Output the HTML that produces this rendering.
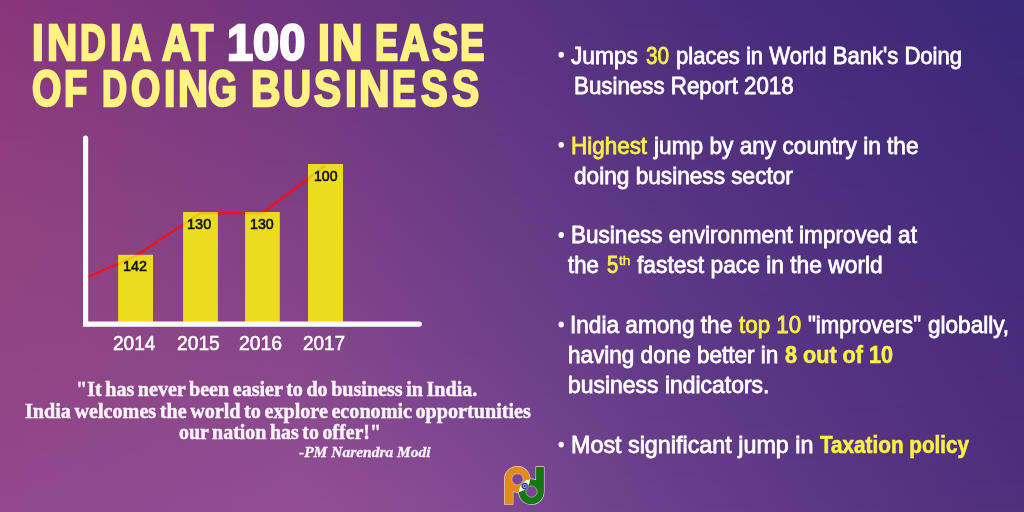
<!DOCTYPE html>
<html lang="en"><head><meta charset="utf-8"><title>India at 100 in Ease of Doing Business</title>
<style>
html,body{margin:0;padding:0;}
body{width:1024px;height:512px;overflow:hidden;position:relative;background:#5b3380;}
#bg,#bg2{position:absolute;left:0;top:0;width:1024px;height:512px;}
#bg{background:linear-gradient(to right,#87357d 0%,#5b3380 50%,#4a2d7c 70%,#3a2878 100%);}
#bg2{background:linear-gradient(to right,#90478f 0%,#914d95 29%,#6e428e 60%,#5d3785 80%,#502f7c 100%);
 -webkit-mask-image:linear-gradient(to bottom,rgba(0,0,0,0) 0%,rgba(0,0,0,1) 100%);
 mask-image:linear-gradient(to bottom,rgba(0,0,0,0) 0%,rgba(0,0,0,1) 100%);}
#bg3{position:absolute;left:0;top:0;width:1024px;height:512px;background:radial-gradient(ellipse 220px 170px at 430px 100%,rgba(250,130,170,0.05) 0%,rgba(250,130,170,0) 100%),radial-gradient(ellipse 490px 330px at 0 50%,rgba(189,107,84,0.115) 0%,rgba(189,107,84,0) 100%);}
.t{position:absolute;display:block;white-space:pre;line-height:1;transform-origin:0 0;margin:0;padding:0;}
svg{position:absolute;left:0;top:0;}
h1,ul,li,blockquote,figure{margin:0;padding:0;font:inherit;list-style:none;display:block;}
</style></head><body>
<div id="bg"></div><div id="bg2"></div><div id="bg3"></div>
<svg width="1024" height="512" viewBox="0 0 1024 512">
 <!-- trend line (behind bars) -->
 <polyline points="88,277 135.5,256 200.5,213.2 262.4,213.2 325.5,165.5" fill="none" stroke="#f0121e" stroke-width="2.2" stroke-linejoin="round"/>
 <!-- bars -->
 <rect x="118.1" y="254.8" width="34.9" height="68" fill="#ebdd1e"/>
 <rect x="183.1" y="212" width="34.8" height="111" fill="#ebdd1e"/>
 <rect x="245.1" y="212" width="34.7" height="111" fill="#ebdd1e"/>
 <rect x="308" y="164" width="35" height="159" fill="#ebdd1e"/>
 <polyline points="88,277 135.5,256 200.5,213.2 262.4,213.2 325.5,165.5" fill="none" stroke="#f0121e" stroke-opacity="0.14" stroke-width="2.2" stroke-linejoin="round"/>
 <!-- axes -->
 <path d="M85.6,138.2 V324.1 H419.4" fill="none" stroke="#fff" stroke-width="5.2" stroke-linecap="round" stroke-linejoin="miter"/>
 <!-- bullet dots -->
  <ellipse cx="561.2" cy="54.8" rx="2.75" ry="2.95" fill="#fff"/>
  <ellipse cx="561.2" cy="144.85" rx="2.75" ry="2.95" fill="#fff"/>
  <ellipse cx="561.2" cy="235.0" rx="2.75" ry="2.95" fill="#fff"/>
  <ellipse cx="561.2" cy="324.5" rx="2.75" ry="2.95" fill="#fff"/>
  <ellipse cx="561.2" cy="444.6" rx="2.75" ry="2.95" fill="#fff"/>
 <!-- logo -->
 <g id="logo">
  <defs>
   <clipPath id="pc"><circle cx="517.3" cy="479.3" r="12.7"/></clipPath>
  </defs>
  <g stroke="#e6d6e4" stroke-width="1.2" stroke-linejoin="round" fill="none">
   <path d="M504.6,504.2 V479.3 A12.7,12.7 0 1 1 512.8,491.18 V504.2 Z"/>
   <path d="M543.9,466.9 V491.8 A12.55,12.55 0 1 1 536.1,480.16 V466.9 Z"/>
  </g>
  <path fill-rule="evenodd" fill="#e08a1e" d="M504.6,504.2 V479.3 A12.7,12.7 0 1 1 512.8,491.18 V504.2 Z M523.1,479.3 A5.6,5.6 0 1 0 511.9,479.3 A5.6,5.6 0 1 0 523.1,479.3 Z"/>
  <path fill-rule="evenodd" fill="#12780f" d="M543.9,466.9 V491.8 A12.55,12.55 0 1 1 536.1,480.16 V466.9 Z M537.1,491.6 A5.6,5.6 0 1 0 525.9,491.6 A5.6,5.6 0 1 0 537.1,491.6 Z"/>
  <circle cx="531.4" cy="491.8" r="12.55" fill="#f4f0f2" clip-path="url(#pc)"/>
  <circle cx="524.7" cy="486" r="2.6" fill="#b9b9ea" stroke="#2b2ba0" stroke-width="1.1"/>
  <circle cx="524.7" cy="486" r="1.1" fill="#1c1c8c"/>
  <circle cx="517.5" cy="479.3" r="5.6" fill="none" stroke="#e6d6e4" stroke-width="0.5"/>
  <circle cx="531.5" cy="491.6" r="5.6" fill="none" stroke="#e6d6e4" stroke-width="0.5"/>
 </g>
</svg>
<h1><span class="w"><span class="t" style="left:32.02px;top:18.40px;font-family:'Liberation Sans', sans-serif;font-size:50.3px;font-style:normal;transform:scaleX(0.8400);-webkit-text-stroke:2.4px;"><span style="color:#fef382;font-weight:700;">I</span></span><span class="t" style="left:46.63px;top:18.40px;font-family:'Liberation Sans', sans-serif;font-size:50.3px;font-style:normal;transform:scaleX(0.8344);-webkit-text-stroke:2.4px;"><span style="color:#fef382;font-weight:700;">N</span></span><span class="t" style="left:80.08px;top:18.40px;font-family:'Liberation Sans', sans-serif;font-size:50.3px;font-style:normal;transform:scaleX(0.7118);-webkit-text-stroke:2.4px;"><span style="color:#fef382;font-weight:700;">D</span></span><span class="t" style="left:110.02px;top:18.40px;font-family:'Liberation Sans', sans-serif;font-size:50.3px;font-style:normal;transform:scaleX(0.8400);-webkit-text-stroke:2.4px;"><span style="color:#fef382;font-weight:700;">I</span></span><span class="t" style="left:122.50px;top:18.40px;font-family:'Liberation Sans', sans-serif;font-size:50.3px;font-style:normal;transform:scaleX(0.7784);-webkit-text-stroke:2.4px;"><span style="color:#fef382;font-weight:700;">A</span></span></span> <span class="w"><span class="t" style="left:161.50px;top:18.40px;font-family:'Liberation Sans', sans-serif;font-size:50.3px;font-style:normal;transform:scaleX(0.8027);-webkit-text-stroke:2.4px;"><span style="color:#fef382;font-weight:700;">A</span></span><span class="t" style="left:190.53px;top:18.40px;font-family:'Liberation Sans', sans-serif;font-size:50.3px;font-style:normal;transform:scaleX(0.7273);-webkit-text-stroke:2.4px;"><span style="color:#fef382;font-weight:700;">T</span></span></span> <span class="w"><span class="t" style="left:226.84px;top:18.40px;font-family:'Liberation Sans', sans-serif;font-size:50.3px;font-style:normal;transform:scaleX(0.9321);-webkit-text-stroke:2.4px;"><span style="color:#ffffff;font-weight:700;">100</span></span></span> <span class="w"><span class="t" style="left:317.90px;top:18.40px;font-family:'Liberation Sans', sans-serif;font-size:50.3px;font-style:normal;transform:scaleX(0.8500);-webkit-text-stroke:2.4px;"><span style="color:#fef382;font-weight:700;">I</span></span><span class="t" style="left:332.22px;top:18.40px;font-family:'Liberation Sans', sans-serif;font-size:50.3px;font-style:normal;transform:scaleX(0.8375);-webkit-text-stroke:2.4px;"><span style="color:#fef382;font-weight:700;">N</span></span></span> <span class="w"><span class="t" style="left:374.63px;top:18.40px;font-family:'Liberation Sans', sans-serif;font-size:50.3px;font-style:normal;transform:scaleX(0.6871);-webkit-text-stroke:2.4px;"><span style="color:#fef382;font-weight:700;">E</span></span><span class="t" style="left:399.70px;top:18.40px;font-family:'Liberation Sans', sans-serif;font-size:50.3px;font-style:normal;transform:scaleX(0.8054);-webkit-text-stroke:2.4px;"><span style="color:#fef382;font-weight:700;">A</span></span><span class="t" style="left:431.50px;top:18.40px;font-family:'Liberation Sans', sans-serif;font-size:50.3px;font-style:normal;transform:scaleX(0.7758);-webkit-text-stroke:2.4px;"><span style="color:#fef382;font-weight:700;">S</span></span><span class="t" style="left:459.74px;top:18.40px;font-family:'Liberation Sans', sans-serif;font-size:50.3px;font-style:normal;transform:scaleX(0.7290);-webkit-text-stroke:2.4px;"><span style="color:#fef382;font-weight:700;">E</span></span></span> <span class="w"><span class="t" style="left:31.55px;top:64.10px;font-family:'Liberation Sans', sans-serif;font-size:50.3px;font-style:normal;transform:scaleX(0.7486);-webkit-text-stroke:2.4px;"><span style="color:#fef382;font-weight:700;">O</span></span><span class="t" style="left:63.99px;top:64.10px;font-family:'Liberation Sans', sans-serif;font-size:50.3px;font-style:normal;transform:scaleX(0.7571);-webkit-text-stroke:2.4px;"><span style="color:#fef382;font-weight:700;">F</span></span></span> <span class="w"><span class="t" style="left:101.72px;top:64.10px;font-family:'Liberation Sans', sans-serif;font-size:50.3px;font-style:normal;transform:scaleX(0.6912);-webkit-text-stroke:2.4px;"><span style="color:#fef382;font-weight:700;">D</span></span><span class="t" style="left:131.05px;top:64.10px;font-family:'Liberation Sans', sans-serif;font-size:50.3px;font-style:normal;transform:scaleX(0.7486);-webkit-text-stroke:2.4px;"><span style="color:#fef382;font-weight:700;">O</span></span><span class="t" style="left:163.96px;top:64.10px;font-family:'Liberation Sans', sans-serif;font-size:50.3px;font-style:normal;transform:scaleX(0.8200);-webkit-text-stroke:2.4px;"><span style="color:#fef382;font-weight:700;">I</span></span><span class="t" style="left:178.35px;top:64.10px;font-family:'Liberation Sans', sans-serif;font-size:50.3px;font-style:normal;transform:scaleX(0.8250);-webkit-text-stroke:2.4px;"><span style="color:#fef382;font-weight:700;">N</span></span><span class="t" style="left:208.46px;top:64.10px;font-family:'Liberation Sans', sans-serif;font-size:50.3px;font-style:normal;transform:scaleX(0.7417);-webkit-text-stroke:2.4px;"><span style="color:#fef382;font-weight:700;">G</span></span></span> <span class="w"><span class="t" style="left:250.68px;top:64.10px;font-family:'Liberation Sans', sans-serif;font-size:50.3px;font-style:normal;transform:scaleX(0.8091);-webkit-text-stroke:2.4px;"><span style="color:#fef382;font-weight:700;">B</span></span><span class="t" style="left:282.55px;top:64.10px;font-family:'Liberation Sans', sans-serif;font-size:50.3px;font-style:normal;transform:scaleX(0.7727);-webkit-text-stroke:2.4px;"><span style="color:#fef382;font-weight:700;">U</span></span><span class="t" style="left:314.00px;top:64.10px;font-family:'Liberation Sans', sans-serif;font-size:50.3px;font-style:normal;transform:scaleX(0.8061);-webkit-text-stroke:2.4px;"><span style="color:#fef382;font-weight:700;">S</span></span><span class="t" style="left:344.80px;top:64.10px;font-family:'Liberation Sans', sans-serif;font-size:50.3px;font-style:normal;transform:scaleX(0.8500);-webkit-text-stroke:2.4px;"><span style="color:#fef382;font-weight:700;">I</span></span><span class="t" style="left:359.22px;top:64.10px;font-family:'Liberation Sans', sans-serif;font-size:50.3px;font-style:normal;transform:scaleX(0.8406);-webkit-text-stroke:2.4px;"><span style="color:#fef382;font-weight:700;">N</span></span><span class="t" style="left:392.47px;top:64.10px;font-family:'Liberation Sans', sans-serif;font-size:50.3px;font-style:normal;transform:scaleX(0.7161);-webkit-text-stroke:2.4px;"><span style="color:#fef382;font-weight:700;">E</span></span><span class="t" style="left:421.30px;top:64.10px;font-family:'Liberation Sans', sans-serif;font-size:50.3px;font-style:normal;transform:scaleX(0.7939);-webkit-text-stroke:2.4px;"><span style="color:#fef382;font-weight:700;">S</span></span><span class="t" style="left:452.00px;top:64.10px;font-family:'Liberation Sans', sans-serif;font-size:50.3px;font-style:normal;transform:scaleX(0.8091);-webkit-text-stroke:2.4px;"><span style="color:#fef382;font-weight:700;">S</span></span></span></h1>
<figure>
<span class="t" style="left:113.07px;top:332.90px;font-family:'Liberation Sans', sans-serif;font-size:20.5px;font-style:normal;transform:scaleX(0.9311);-webkit-text-stroke:0.55px;"><span style="color:#ffffff;font-weight:400;">2014</span></span>
<span class="t" style="left:176.56px;top:332.90px;font-family:'Liberation Sans', sans-serif;font-size:20.5px;font-style:normal;transform:scaleX(0.9386);-webkit-text-stroke:0.55px;"><span style="color:#ffffff;font-weight:400;">2015</span></span>
<span class="t" style="left:239.45px;top:332.90px;font-family:'Liberation Sans', sans-serif;font-size:20.5px;font-style:normal;transform:scaleX(0.9455);-webkit-text-stroke:0.55px;"><span style="color:#ffffff;font-weight:400;">2016</span></span>
<span class="t" style="left:302.98px;top:332.90px;font-family:'Liberation Sans', sans-serif;font-size:20.5px;font-style:normal;transform:scaleX(0.9227);-webkit-text-stroke:0.55px;"><span style="color:#ffffff;font-weight:400;">2017</span></span>
<span class="t" style="left:122.65px;top:257.90px;font-family:'Liberation Sans', sans-serif;font-size:15.2px;font-style:normal;transform:scaleX(0.9458);-webkit-text-stroke:0.6px;"><span style="color:#111;font-weight:400;">142</span></span>
<span class="t" style="left:186.84px;top:216.40px;font-family:'Liberation Sans', sans-serif;font-size:15.2px;font-style:normal;transform:scaleX(0.9583);-webkit-text-stroke:0.6px;"><span style="color:#111;font-weight:400;">130</span></span>
<span class="t" style="left:250.16px;top:216.40px;font-family:'Liberation Sans', sans-serif;font-size:15.2px;font-style:normal;transform:scaleX(0.9375);-webkit-text-stroke:0.6px;"><span style="color:#111;font-weight:400;">130</span></span>
<span class="t" style="left:313.67px;top:168.40px;font-family:'Liberation Sans', sans-serif;font-size:15.2px;font-style:normal;transform:scaleX(0.9292);-webkit-text-stroke:0.6px;"><span style="color:#111;font-weight:400;">100</span></span>
</figure>
<blockquote>
<span class="t" style="left:76.05px;top:379.40px;font-family:'Liberation Serif', serif;font-size:20.6px;font-style:normal;transform:scaleX(0.9756);-webkit-text-stroke:0.45px;"><span style="color:#fbf5fa;font-weight:700;word-spacing:-1.5px;">"It has never been easier to do business in India.</span></span>
<span class="t" style="left:25.20px;top:401.20px;font-family:'Liberation Serif', serif;font-size:20.6px;font-style:normal;transform:scaleX(0.9783);-webkit-text-stroke:0.45px;"><span style="color:#fbf5fa;font-weight:700;word-spacing:-1.5px;">India welcomes the world to explore economic opportunities</span></span>
<span class="t" style="left:179.00px;top:422.00px;font-family:'Liberation Serif', serif;font-size:20.6px;font-style:normal;transform:scaleX(0.9681);-webkit-text-stroke:0.45px;"><span style="color:#fbf5fa;font-weight:700;word-spacing:-1.5px;">our nation has to offer!"</span></span>
<span class="t" style="left:298.50px;top:443.50px;font-family:'Liberation Serif', serif;font-size:15.4px;font-style:italic;transform:scaleX(1.0061);-webkit-text-stroke:0.3px;"><span style="color:#fbf5fa;font-weight:700;">-PM Narendra Modi</span></span>
</blockquote>
<ul>
<li>
<span class="t" style="left:571.10px;top:44.70px;font-family:'Liberation Sans', sans-serif;font-size:23.2px;font-style:normal;transform:scaleX(0.9794);-webkit-text-stroke:0.8px;"><span style="color:#ffffff;font-weight:400;">Jumps</span></span>
<span class="t" style="left:645.50px;top:44.70px;font-family:'Liberation Sans', sans-serif;font-size:23.2px;font-style:normal;transform:scaleX(0.8962);-webkit-text-stroke:0.8px;"><span style="color:#f8f04a;font-weight:400;">30</span></span>
<span class="t" style="left:675.85px;top:44.70px;font-family:'Liberation Sans', sans-serif;font-size:23.2px;font-style:normal;transform:scaleX(0.9522);-webkit-text-stroke:0.8px;"><span style="color:#ffffff;font-weight:400;">places in World Bank's Doing</span></span>
<span class="t" style="left:574.44px;top:74.65px;font-family:'Liberation Sans', sans-serif;font-size:23.2px;font-style:normal;transform:scaleX(0.9630);-webkit-text-stroke:0.8px;"><span style="color:#ffffff;font-weight:400;">Business Report 2018</span></span>
</li>
<li>
<span class="t" style="left:570.83px;top:134.55px;font-family:'Liberation Sans', sans-serif;font-size:23.2px;font-style:normal;transform:scaleX(0.9679);-webkit-text-stroke:0.8px;"><span style="color:#f8f04a;font-weight:400;">Highest</span></span>
<span class="t" style="left:654.08px;top:134.55px;font-family:'Liberation Sans', sans-serif;font-size:23.2px;font-style:normal;transform:scaleX(0.9775);-webkit-text-stroke:0.8px;"><span style="color:#ffffff;font-weight:400;">jump by any country in the</span></span>
<span class="t" style="left:574.40px;top:164.50px;font-family:'Liberation Sans', sans-serif;font-size:23.2px;font-style:normal;transform:scaleX(0.9760);-webkit-text-stroke:0.8px;"><span style="color:#ffffff;font-weight:400;">doing business sector</span></span>
</li>
<li>
<span class="t" style="left:570.83px;top:224.40px;font-family:'Liberation Sans', sans-serif;font-size:23.2px;font-style:normal;transform:scaleX(0.9724);-webkit-text-stroke:0.8px;"><span style="color:#ffffff;font-weight:400;">Business environment improved at</span></span>
<span class="t" style="left:568.20px;top:254.35px;font-family:'Liberation Sans', sans-serif;font-size:23.2px;font-style:normal;transform:scaleX(0.9531);-webkit-text-stroke:0.8px;"><span style="color:#ffffff;font-weight:400;">the</span></span>
<span class="t" style="left:606.90px;top:254.35px;font-family:'Liberation Sans', sans-serif;font-size:23.2px;font-style:normal;transform:scaleX(0.8692);-webkit-text-stroke:0.9px;"><span style="color:#f8f04a;font-weight:400;">5</span></span><span class="t" style="left:619.20px;top:255.05px;font-family:'Liberation Sans', sans-serif;font-size:12.8px;font-style:normal;transform:scaleX(1.0700);-webkit-text-stroke:0.45px;"><span style="color:#f8f04a;font-weight:400;">th</span></span>
<span class="t" style="left:637.10px;top:254.35px;font-family:'Liberation Sans', sans-serif;font-size:23.2px;font-style:normal;transform:scaleX(0.9827);-webkit-text-stroke:0.8px;"><span style="color:#ffffff;font-weight:400;">fastest pace in the world</span></span>
</li>
<li>
<span class="t" style="left:569.65px;top:314.25px;font-family:'Liberation Sans', sans-serif;font-size:23.2px;font-style:normal;transform:scaleX(0.9756);-webkit-text-stroke:0.8px;"><span style="color:#ffffff;font-weight:400;">India among the</span></span>
<span class="t" style="left:738.60px;top:314.25px;font-family:'Liberation Sans', sans-serif;font-size:23.2px;font-style:normal;transform:scaleX(0.9641);-webkit-text-stroke:0.8px;"><span style="color:#f8f04a;font-weight:400;">top 10</span></span>
<span class="t" style="left:808.10px;top:314.25px;font-family:'Liberation Sans', sans-serif;font-size:23.2px;font-style:normal;transform:scaleX(0.9559);-webkit-text-stroke:0.8px;"><span style="color:#ffffff;font-weight:400;">"improvers"</span></span>
<span class="t" style="left:928.10px;top:314.25px;font-family:'Liberation Sans', sans-serif;font-size:23.2px;font-style:normal;transform:scaleX(0.9732);-webkit-text-stroke:0.8px;"><span style="color:#ffffff;font-weight:400;">globally,</span></span>
<span class="t" style="left:568.23px;top:344.20px;font-family:'Liberation Sans', sans-serif;font-size:23.2px;font-style:normal;transform:scaleX(0.9712);-webkit-text-stroke:0.8px;"><span style="color:#ffffff;font-weight:400;">having done better in</span></span>
<span class="t" style="left:785.00px;top:344.20px;font-family:'Liberation Sans', sans-serif;font-size:23.2px;font-style:normal;transform:scaleX(0.9319);-webkit-text-stroke:0.6px;"><span style="color:#f8f04a;font-weight:700;">8 out of 10</span></span>
<span class="t" style="left:568.21px;top:374.15px;font-family:'Liberation Sans', sans-serif;font-size:23.2px;font-style:normal;transform:scaleX(0.9891);-webkit-text-stroke:0.8px;"><span style="color:#ffffff;font-weight:400;">business indicators.</span></span>
</li>
<li>
<span class="t" style="left:570.79px;top:434.05px;font-family:'Liberation Sans', sans-serif;font-size:23.2px;font-style:normal;transform:scaleX(1.0059);-webkit-text-stroke:0.8px;"><span style="color:#ffffff;font-weight:400;">Most significant jump in</span></span>
<span class="t" style="left:819.90px;top:434.05px;font-family:'Liberation Sans', sans-serif;font-size:23.2px;font-style:normal;transform:scaleX(0.8923);-webkit-text-stroke:0.6px;"><span style="color:#f8f04a;font-weight:700;">Taxation policy</span></span>
</li>
</ul>
</body></html>
